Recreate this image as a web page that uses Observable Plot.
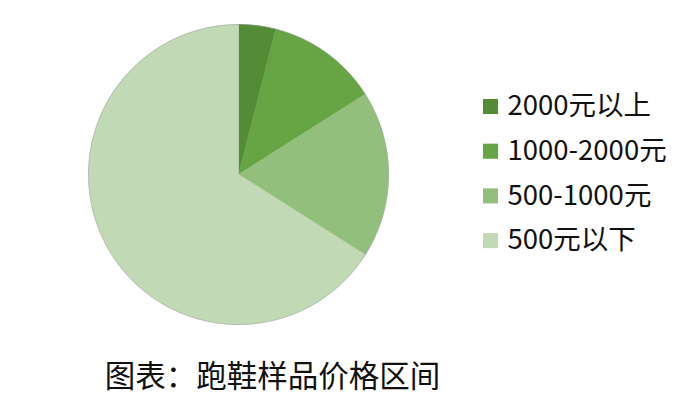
<!DOCTYPE html>
<html><head><meta charset="utf-8">
<script src="https://cdn.jsdelivr.net/npm/d3@7"></script>
<script src="https://cdn.jsdelivr.net/npm/@observablehq/plot@0.6"></script>
<style>body{margin:0;background:#fff}#chart{width:700px;height:413px}</style>
</head><body><div id="chart"></div>
<script>
const categories = ["2000元以上", "1000-2000元", "500-1000元", "500元以下"];
const shares = [4, 12, 18, 66];
const colors = ["#548b37", "#67a443", "#93bf7d", "#c1d9b4"];
const caption = "图表：跑鞋样品价格区间";

const W = 700, H = 413, cx = 238, cy = 174, R = 150;
const font = "'Noto Sans CJK SC', 'Microsoft YaHei', sans-serif";

const arcs = d3.pie().sort(null).value(d => d.value)(categories.map((c, i) => ({key: c, value: shares[i]})));
const pts = [];
arcs.forEach(a => {
  pts.push({key: a.data.key, x: 0, y: 0});
  const n = Math.max(2, Math.ceil((a.endAngle - a.startAngle) / 0.01));
  for (let k = 0; k <= n; k++) {
    const t = a.startAngle + (a.endAngle - a.startAngle) * k / n;
    pts.push({key: a.data.key, x: Math.sin(t), y: Math.cos(t)});
  }
  pts.push({key: a.data.key, x: 0, y: 0});
});
const rim = d3.range(0, 361).map(d => ({x: Math.sin(d * Math.PI / 180), y: Math.cos(d * Math.PI / 180)}));

// pixel -> data helpers for legend/caption placement
const px = p => (p - cx) / R, py = p => (cy - p) / R;
const legend = categories.map((c, i) => ({key: c, x: px(490), xt: px(507), y: py(106 + 44.7 * i)}));

const chart = Plot.plot({
  width: W, height: H,
  margin: 0,
  x: {domain: [-cx / R, (W - cx) / R], axis: null},
  y: {domain: [-(H - cy) / R, cy / R], axis: null},
  color: {domain: categories, range: colors},
  style: {fontFamily: font, background: "#fff"},
  marks: [
    Plot.line(pts, {x: "x", y: "y", z: "key", fill: "key", stroke: "key", strokeWidth: 0.6}),
    Plot.line(rim, {x: "x", y: "y", stroke: "#9a9a9a", strokeWidth: 0.6, strokeOpacity: 0.8}),
    Plot.dot(legend, {x: "x", y: "y", fill: "key", symbol: "square", r: 8.5}),
    Plot.text(legend, {x: "xt", y: "y", text: "key", textAnchor: "start", fontSize: 27.5, fill: "#111", fontFamily: font}),
    Plot.text([caption], {x: px(272), y: py(377), text: d => d, fontSize: 30.5, fill: "#111", fontFamily: font})
  ]
});
document.getElementById("chart").append(chart);
</script>
</body></html>
